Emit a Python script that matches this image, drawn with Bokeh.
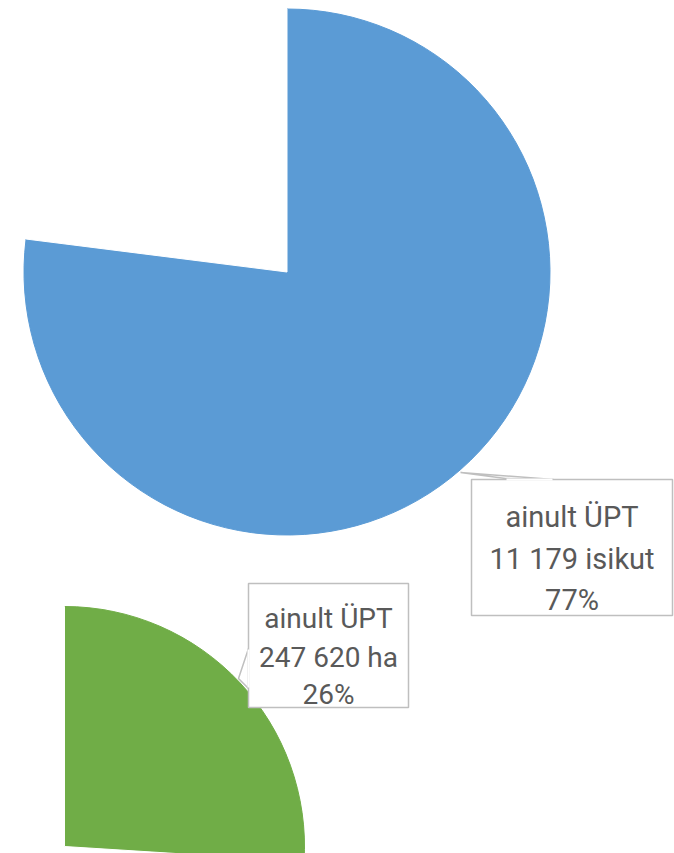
import math
from bokeh.plotting import figure
from bokeh.models import ColumnDataSource
from bokeh.core.properties import value
from bokeh.embed import file_html
from bokeh.resources import INLINE

# ---- data ----
category = "ainult ÜPT"
persons_count = 11179
persons_share = [77, 23]          # % : ainult ÜPT, rest
area_ha = 247620
area_share = [26, 74]             # % : ainult ÜPT, rest
slice_colors_top = ["#5B9BD5", "#FFFFFF"]
slice_colors_bottom = ["#70AD47", "#FFFFFF"]

def fmt(n):
    return f"{n:,}".replace(",", " ")

W, H = 674, 853
p = figure(width=W, height=H, x_range=(0, W), y_range=(0, H),
           output_backend="svg", toolbar_location=None, min_border=0)
p.axis.visible = False
p.grid.visible = False
p.outline_line_color = None
p.background_fill_color = "white"

def Y(img_y):
    return 853 - img_y

def pie(cx, cy, r, shares, colors):
    starts, ends = [], []
    a = math.pi / 2
    total = sum(shares)
    for s in shares:
        starts.append(a)
        a = a - 2 * math.pi * s / total
        ends.append(a)
    src = ColumnDataSource(dict(x=[cx] * len(shares), y=[Y(cy)] * len(shares),
                                start=starts, end=ends, color=colors))
    p.wedge(x="x", y="y", radius=r, start_angle="start", end_angle="end",
            direction="clock", fill_color="color", line_color="color", source=src)

pie(286.5, 271.5, 263, persons_share, slice_colors_top)
pie(64, 846, 240, area_share, slice_colors_bottom)

box_line = "#BFBFBF"
txt_color = "#595959"

# callout pointers
p.patch([460, 505, 553], [Y(472), Y(478), Y(479)], fill_color="white",
        line_color=box_line, line_width=1.5)
p.patch([248, 238, 248], [Y(648), Y(678), Y(688)], fill_color="white",
        line_color=box_line, line_width=1.5)

# boxes
p.quad(left=[471], right=[672], top=[Y(479)], bottom=[Y(615)],
       fill_color="white", line_color=box_line, line_width=1.5)
p.quad(left=[248], right=[408], top=[Y(583)], bottom=[Y(707)],
       fill_color="white", line_color=box_line, line_width=1.5)
# hide box edge at pointer bases
p.segment(x0=[506], y0=[Y(479)], x1=[552], y1=[Y(479)], line_color="white", line_width=2)
p.segment(x0=[248], y0=[Y(649)], x1=[248], y1=[Y(687)], line_color="white", line_width=2)

lines1 = [category, f"{fmt(persons_count)} isikut", f"{persons_share[0]}%"]
lines2 = [category, f"{fmt(area_ha)} ha", f"{area_share[0]}%"]

p.text(x=[571.5] * 3, y=[Y(516.5), Y(558.5), Y(599.5)], text=lines1,
       text_font=value("Roboto"), text_font_size="29px", text_color=txt_color,
       text_align="center", text_baseline="alphabetic")
p.text(x=[328] * 3, y=[Y(618), Y(656.5), Y(694)], text=lines2,
       text_font=value("Roboto"), text_font_size="28px", text_color=txt_color,
       text_align="center", text_baseline="alphabetic")

open("out.html", "w").write(file_html(p, INLINE))
